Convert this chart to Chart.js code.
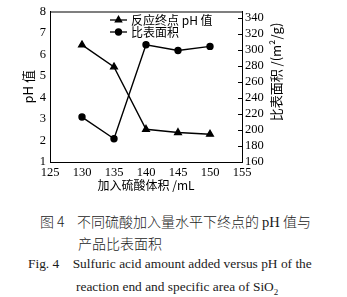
<!DOCTYPE html>
<html><head><meta charset="utf-8">
<script src="https://cdn.jsdelivr.net/npm/chart.js@4.4.0/dist/chart.umd.min.js"></script>
<style>
html,body{margin:0;padding:0;background:#fff;width:347px;height:297px;overflow:hidden;position:relative}
#c{position:absolute;left:0;top:0}
.cap{position:absolute;white-space:nowrap;color:#1a1a1a}
.zh{font-family:"Noto Sans CJK SC";font-size:14px;line-height:16px;font-weight:300}
.en{font-family:"Liberation Serif";font-size:13.4px;line-height:15px}
</style></head><body>
<canvas id="c" width="347" height="200"></canvas>
<div class="cap zh" style="left:40px;top:213px">图 4&nbsp;&nbsp;&nbsp;&nbsp;不同硫酸加入量水平下终点的 <span style="font-family:'Liberation Serif';font-size:14.5px">pH</span> 值与</div>
<div class="cap zh" style="left:78px;top:235px">产品比表面积</div>
<div class="cap en" style="left:28px;top:256px">Fig. 4&nbsp;&nbsp;&nbsp;&nbsp;Sulfuric acid amount added versus pH of the</div>
<div class="cap en" style="left:76px;top:279px">reaction end and specific area of SiO<sub style="font-size:9px">2</sub></div>
<script>
const acidVolume = [130, 135, 140, 145, 150];
const phEnd = [6.45, 5.42, 2.52, 2.37, 2.29];
const specificArea = [216, 189, 306, 299, 304];
const xTicks = [125, 130, 135, 140, 145, 150, 155];
const phTicks = [1, 2, 3, 4, 5, 6, 7, 8];
const areaTicks = [160, 180, 200, 220, 240, 260, 280, 300, 320, 340];
const seriesNames = ['反应终点 pH 值', '比表面积'];

const serif = "'Liberation Serif', 'Times New Roman', serif";
const cjk = "'Noto Sans CJK SC'";

const frame = {
  id: 'frame',
  afterDraw(chart) {
    const {ctx, chartArea: a} = chart;
    ctx.save();
    ctx.strokeStyle = '#000'; ctx.lineWidth = 1;
    ctx.strokeRect(a.left + 0.5, a.top + 0.5, a.right - a.left, a.bottom - a.top);
    const y1 = chart.scales.y1;
    areaTicks.forEach(v => {
      const py = Math.round(y1.getPixelForValue(v)) + 0.5;
      ctx.beginPath(); ctx.moveTo(a.right - 4, py); ctx.lineTo(a.right, py); ctx.stroke();
    });
    ctx.fillStyle = '#000';
    ctx.font = '13px ' + cjk;
    ctx.translate(276, 72);
    ctx.rotate(-Math.PI / 2);
    ctx.textAlign = 'center'; ctx.textBaseline = 'middle';
    ctx.fillText('比表面积 /(m²/g)', 0, 0);
    ctx.restore();
    ctx.save();
    ctx.strokeStyle = '#000'; ctx.fillStyle = '#000'; ctx.lineWidth = 1.3;
    const rows = [{y: 20, style: 'triangle'}, {y: 32, style: 'circle'}];
    rows.forEach((r, i) => {
      ctx.beginPath(); ctx.moveTo(110, r.y); ctx.lineTo(127, r.y); ctx.stroke();
      Chart.helpers.drawPoint(ctx, {pointStyle: r.style, radius: r.style === 'triangle' ? 3.6 : 3, rotation: 0, borderWidth: 1}, 118.5, r.y);
      ctx.fill();
      ctx.font = '12px ' + cjk;
      ctx.textBaseline = 'middle'; ctx.textAlign = 'left';
      ctx.fillText(seriesNames[i], 131, r.y);
    });
    ctx.restore();
  }
};

new Chart(document.getElementById('c'), {
  type: 'line',
  data: {
    datasets: [
      {label: seriesNames[0], yAxisID: 'y', data: acidVolume.map((x, i) => ({x, y: phEnd[i]})),
       borderColor: '#000', backgroundColor: '#000', borderWidth: 1.4, pointStyle: 'triangle', pointRadius: 3.8, tension: 0},
      {label: seriesNames[1], yAxisID: 'y1', data: acidVolume.map((x, i) => ({x, y: specificArea[i]})),
       borderColor: '#000', backgroundColor: '#000', borderWidth: 1.4, pointStyle: 'circle', pointRadius: 3, tension: 0}
    ]
  },
  options: {
    responsive: false, animation: false,
    layout: {padding: {top: 11, left: 0, right: 0, bottom: 0}},
    plugins: {legend: {display: false}, tooltip: {enabled: false}},
    scales: {
      x: {type: 'linear', min: 125, max: 155,
        afterBuildTicks: s => { s.ticks = xTicks.map(v => ({value: v})); },
        afterFit: s => { s.height = 38; },
        grid: {display: false, drawTicks: false, tickLength: 0}, border: {display: true, color: '#000'},
        ticks: {color: '#000', font: {family: serif, size: 12.5}, padding: 3, autoSkip: false, maxRotation: 0},
        title: {display: true, text: '加入硫酸体积 /mL', color: '#000', font: {family: cjk, size: 12}, padding: {top: 0, bottom: 7}}
      },
      y: {position: 'left', min: 1, max: 8,
        afterBuildTicks: s => { s.ticks = phTicks.map(v => ({value: v})); },
        afterFit: s => { s.width = 50; },
        grid: {display: false, drawTicks: false, tickLength: 0}, border: {display: true, color: '#000'},
        ticks: {color: '#000', font: {family: serif, size: 12.5}, padding: 4, autoSkip: false},
        title: {display: true, text: 'pH 值', color: '#000', font: {family: cjk, size: 13}, padding: {top: 20, bottom: 0}}
      },
      y1: {position: 'right', min: 160, max: 347.5,
        afterBuildTicks: s => { s.ticks = areaTicks.map(v => ({value: v})); },
        afterFit: s => { s.width = 105; },
        grid: {display: false, drawTicks: false, tickLength: 0}, border: {display: true, color: '#000'},
        ticks: {color: '#000', font: {family: serif, size: 12.5}, padding: 3, autoSkip: false}
      }
    }
  },
  plugins: [frame]
});
</script>
</body></html>
